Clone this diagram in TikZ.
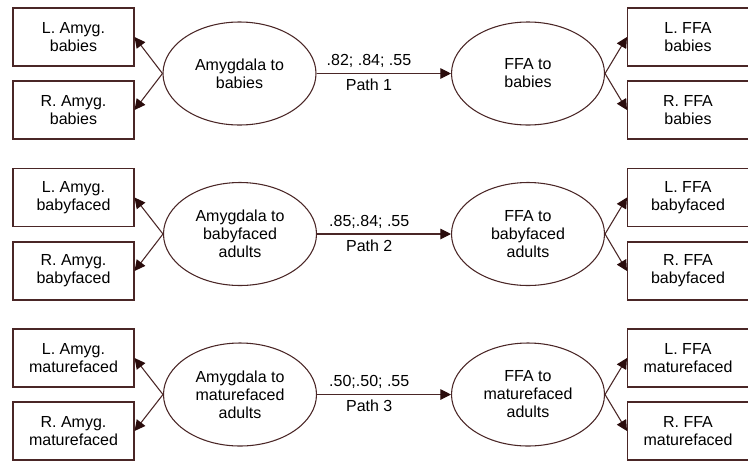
\documentclass[tikz,border=0pt]{standalone}
\usepackage{fontspec}
\setmainfont{Liberation Sans}
\usepackage{xcolor}
\usepackage{tikz}
\usetikzlibrary{shapes.geometric,arrows.meta}
\definecolor{SEMLine}{HTML}{4A2626}
\definecolor{SEMTip}{HTML}{2A0C0C}

\begin{document}
\begin{tikzpicture}[x=0.75pt,y=-0.75pt,
  font=\fontsize{12}{13.5}\selectfont,
  roi/.style={draw=SEMLine,line width=0.8pt,minimum width=90.75pt,minimum height=43.5pt,inner sep=0pt,align=center},
  latent/.style={ellipse,draw=SEMLine,line width=0.8pt,minimum width=114.75pt,minimum height=77.25pt,inner sep=0pt,align=center},
  load/.style={draw=SEMLine,line width=0.8pt,-{Triangle[length=8pt,width=8pt,color=SEMTip]}},
  coef/.style={inner sep=4pt}]
\path[use as bounding box] (0,0) rectangle (748,461);
% babies
\node[roi] (lamyg1) at (73.5,37) {L. Amyg.\\babies};
\node[roi] (ramyg1) at (73.5,110) {R. Amyg.\\babies};
\node[latent] (amyg1) at (239.5,73.5) {Amygdala to\\babies};
\node[latent] (ffa1) at (528,73.5) {FFA to\\babies};
\node[roi] (lffa1) at (688,37) {L. FFA\\babies};
\node[roi] (rffa1) at (688,110) {R. FFA\\babies};
\draw[load] (amyg1.west) -- (lamyg1.east);
\draw[load] (amyg1.west) -- (ramyg1.east);
\draw[load] (ffa1.east) -- (lffa1.west);
\draw[load] (ffa1.east) -- (rffa1.west);
\draw[load] (amyg1.east) -- node[coef,pos=0.39,above] {.82; .84; .55} node[coef,pos=0.39,below] {Path 1} (ffa1.west);
% babyfaced adults
\node[roi] (lamyg2) at (73.5,197.5) {L. Amyg.\\babyfaced};
\node[roi] (ramyg2) at (73.5,271) {R. Amyg.\\babyfaced};
\node[latent] (amyg2) at (240,234) {Amygdala to\\babyfaced\\adults};
\node[latent] (ffa2) at (528,234) {FFA to\\babyfaced\\adults};
\node[roi] (lffa2) at (688,197.5) {L. FFA\\babyfaced};
\node[roi] (rffa2) at (688,271) {R. FFA\\babyfaced};
\draw[load] (amyg2.west) -- (lamyg2.east);
\draw[load] (amyg2.west) -- (ramyg2.east);
\draw[load] (ffa2.east) -- (lffa2.west);
\draw[load] (ffa2.east) -- (rffa2.west);
\draw[load] (amyg2.east) -- node[coef,pos=0.39,above] {.85;.84; .55} node[coef,pos=0.39,below] {Path 2} (ffa2.west);
% maturefaced adults
\node[roi] (lamyg3) at (73.5,358) {L. Amyg.\\maturefaced};
\node[roi] (ramyg3) at (73.5,431) {R. Amyg.\\maturefaced};
\node[latent] (amyg3) at (240,394.5) {Amygdala to\\maturefaced\\adults};
\node[latent] (ffa3) at (528,394.5) {FFA to\\maturefaced\\adults};
\node[roi] (lffa3) at (688,358) {L. FFA\\maturefaced};
\node[roi] (rffa3) at (688,431) {R. FFA\\maturefaced};
\draw[load] (amyg3.west) -- (lamyg3.east);
\draw[load] (amyg3.west) -- (ramyg3.east);
\draw[load] (ffa3.east) -- (lffa3.west);
\draw[load] (ffa3.east) -- (rffa3.west);
\draw[load] (amyg3.east) -- node[coef,pos=0.39,above] {.50;.50; .55} node[coef,pos=0.39,below] {Path 3} (ffa3.west);
\end{tikzpicture}
\end{document}
